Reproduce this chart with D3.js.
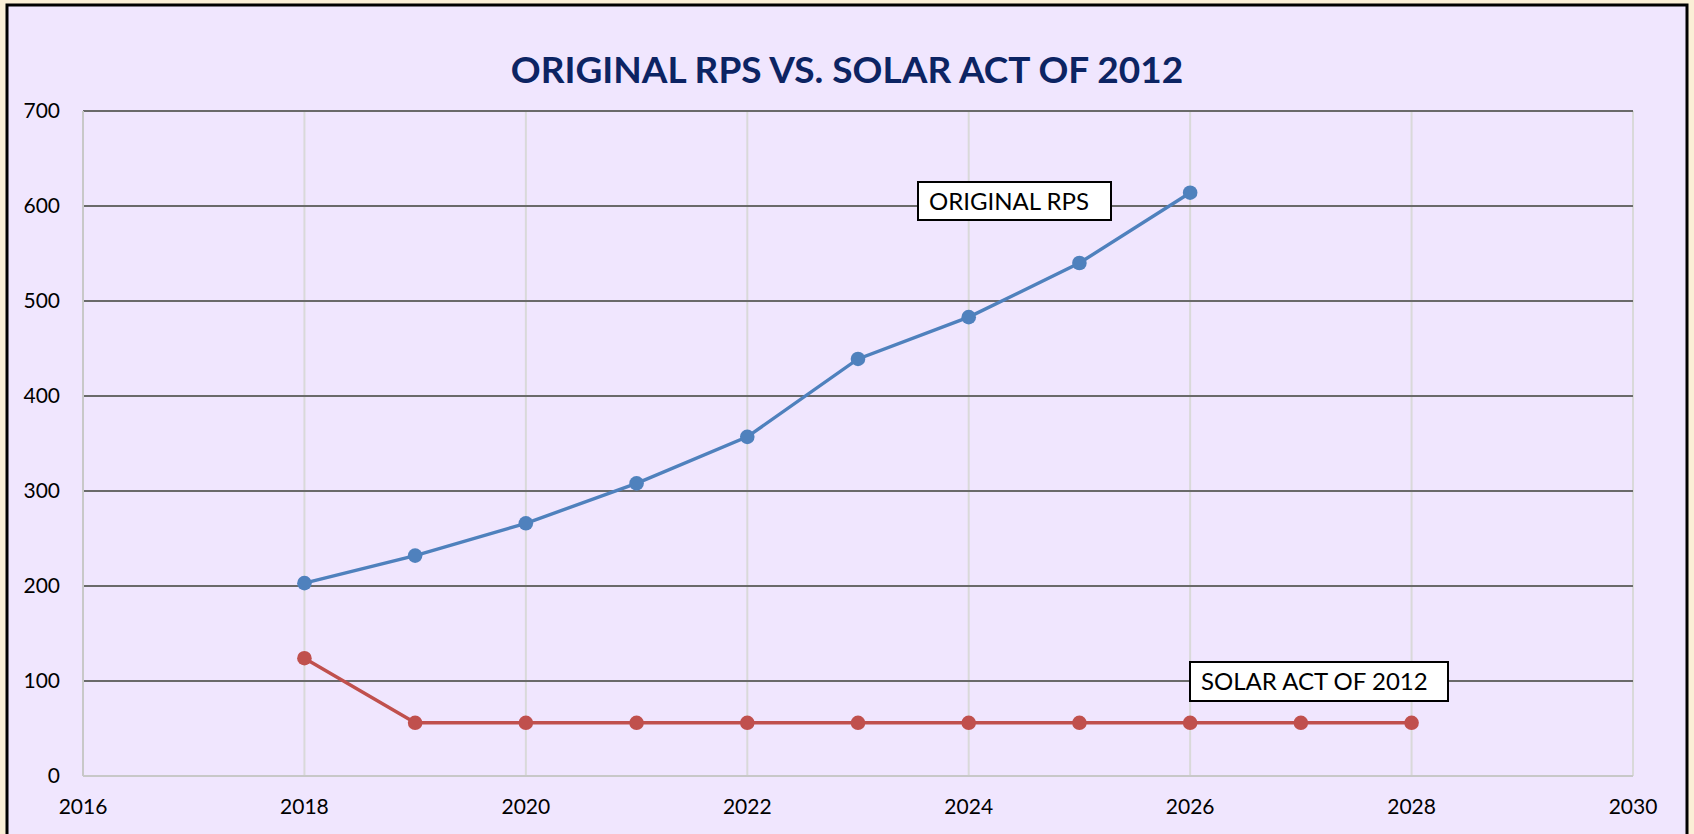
<!DOCTYPE html>
<html>
<head>
<meta charset="utf-8">
<script src="https://cdn.jsdelivr.net/npm/d3@7"></script>
<style>
  html, body { margin: 0; padding: 0; background: #FBEFD6; }
  svg { display: block; }
  text { font-family: Lato, "Open Sans", sans-serif; }
</style>
</head>
<body>
<svg id="chart" width="1694" height="834"></svg>
<script>
// ---- data ----
const title = "ORIGINAL RPS VS. SOLAR ACT OF 2012";
const rpsYears = [2018, 2019, 2020, 2021, 2022, 2023, 2024, 2025, 2026];
const rpsValues = [203, 232, 266, 308, 357, 439, 483, 540, 614];
const solarYears = [2018, 2019, 2020, 2021, 2022, 2023, 2024, 2025, 2026, 2027, 2028];
const solarValues = [124, 56, 56, 56, 56, 56, 56, 56, 56, 56, 56];
const xTicks = [2016, 2018, 2020, 2022, 2024, 2026, 2028, 2030];
const yTicks = [0, 100, 200, 300, 400, 500, 600, 700];
const seriesNames = ["ORIGINAL RPS", "SOLAR ACT OF 2012"];

// ---- layout ----
const svg = d3.select("#chart");
const W = 1694, H = 834;
const plot = { left: 83, right: 1633, top: 111, bottom: 776 };

svg.append("rect").attr("x", 0).attr("y", 0).attr("width", W).attr("height", H).attr("fill", "#FBEFD6");
svg.append("rect").attr("x", 7).attr("y", 5).attr("width", 1680).attr("height", 850)
  .attr("fill", "#F0E6FE").attr("stroke", "#000").attr("stroke-width", 3);

const x = d3.scaleLinear().domain([2016, 2030]).range([plot.left, plot.right]);
const y = d3.scaleLinear().domain([0, 700]).range([plot.bottom, plot.top]);

// vertical gridlines
svg.append("g").selectAll("line").data(xTicks.filter(d => d !== 2016)).join("line")
  .attr("x1", d => x(d)).attr("x2", d => x(d))
  .attr("y1", plot.top).attr("y2", plot.bottom)
  .attr("stroke", "#D9D9D9").attr("stroke-width", 2);

// horizontal gridlines
svg.append("g").selectAll("line").data(yTicks.filter(d => d !== 0)).join("line")
  .attr("x1", plot.left).attr("x2", plot.right)
  .attr("y1", d => y(d)).attr("y2", d => y(d))
  .attr("stroke", "#6A6A6A").attr("stroke-width", 2);

// axes lines
svg.append("line").attr("x1", x(2016)).attr("x2", x(2016)).attr("y1", plot.top).attr("y2", plot.bottom)
  .attr("stroke", "#C8C8C8").attr("stroke-width", 2);
svg.append("line").attr("x1", plot.left).attr("x2", plot.right).attr("y1", y(0)).attr("y2", y(0))
  .attr("stroke", "#C8C8C8").attr("stroke-width", 2);

// y tick labels
svg.append("g").selectAll("text").data(yTicks).join("text")
  .attr("x", 60).attr("y", d => y(d)).attr("dy", "0.35em")
  .attr("text-anchor", "end").attr("font-size", 21).attr("fill", "#000")
  .text(d => d);

// x tick labels
svg.append("g").selectAll("text").data(xTicks).join("text")
  .attr("x", d => x(d)).attr("y", 814)
  .attr("text-anchor", "middle").attr("font-size", 21).attr("fill", "#000")
  .text(d => d);

// title
svg.append("text").attr("x", 847).attr("y", 83).attr("text-anchor", "middle")
  .attr("font-size", 37).attr("font-weight", "bold").attr("fill", "#0C2463")
  .text(title);

// series
const line = d3.line().x(d => x(d[0])).y(d => y(d[1]));
const series = [
  { years: rpsYears, values: rpsValues, color: "#4F81BD" },
  { years: solarYears, values: solarValues, color: "#C0504D" }
];
series.forEach(s => {
  const pts = s.years.map((yr, i) => [yr, s.values[i]]);
  svg.append("path").datum(pts).attr("d", line).attr("fill", "none")
    .attr("stroke", s.color).attr("stroke-width", 3.4);
  svg.append("g").selectAll("circle").data(pts).join("circle")
    .attr("cx", d => x(d[0])).attr("cy", d => y(d[1])).attr("r", 7.3)
    .attr("fill", s.color);
});

// annotation boxes
const boxes = [
  { text: seriesNames[0], x: 918, y: 182, w: 193, h: 38 },
  { text: seriesNames[1], x: 1190, y: 662, w: 258, h: 39 }
];
boxes.forEach(b => {
  svg.append("rect").attr("x", b.x).attr("y", b.y).attr("width", b.w).attr("height", b.h)
    .attr("fill", "#fff").attr("stroke", "#000").attr("stroke-width", 2);
  svg.append("text").attr("x", b.x + 11).attr("y", b.y + b.h / 2).attr("dy", "0.36em")
    .attr("font-size", 24).attr("fill", "#000").text(b.text);
});
</script>
</body>
</html>
